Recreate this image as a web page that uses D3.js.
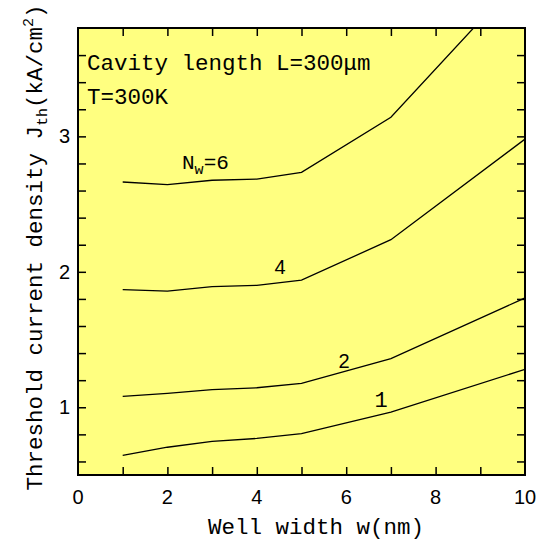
<!DOCTYPE html>
<html><head><meta charset="utf-8">
<script src="https://cdn.jsdelivr.net/npm/d3@7"></script>
<style>body{margin:0;background:#fff}</style>
</head><body><svg id="c" width="546" height="544"></svg>
<script>
const wellWidth = [1, 2, 3, 4, 5, 7, 10];
const jth_Nw1 = [0.645, 0.705, 0.748, 0.770, 0.805, 0.965, 1.28];
const jth_Nw2 = [1.080, 1.102, 1.131, 1.144, 1.176, 1.359, 1.807];
const jth_Nw4 = [1.868, 1.858, 1.890, 1.900, 1.939, 2.237, 2.980];
const jth_Nw6 = [2.663, 2.644, 2.676, 2.685, 2.734, 3.141, 4.21];
const xTickLabels = [0, 2, 4, 6, 8, 10];
const yTickLabels = [1, 2, 3];

const svg = d3.select("#c");
const L = 78, R = 525, T = 28, B = 475;
const x = d3.scaleLinear().domain([0, 10]).range([L, R]);
const y = d3.scaleLinear().domain([0.5, 3.8]).range([B, T]);
const mono = "'Courier New','Liberation Mono',monospace";
const sans = "Arial,'Liberation Sans',sans-serif";

svg.append("rect").attr("x", L).attr("y", T).attr("width", R - L).attr("height", B - T).attr("fill", "#ffff80");
svg.append("clipPath").attr("id", "clip").append("rect").attr("x", L).attr("y", T).attr("width", R - L).attr("height", B - T);

const minorX = d3.range(1, 10);
const minorY = d3.range(6, 38, 2).map(v => v / 10);
const tl = 8;
svg.append("g").attr("transform", `translate(0,${B})`)
  .call(d3.axisBottom(x).tickValues(minorX).tickSize(-tl).tickFormat(""))
  .call(g => g.select(".domain").remove());
svg.append("g").attr("transform", `translate(0,${T})`)
  .call(d3.axisTop(x).tickValues(minorX).tickSize(-tl).tickFormat(""))
  .call(g => g.select(".domain").remove());
svg.append("g").attr("transform", `translate(${L},0)`)
  .call(d3.axisLeft(y).tickValues(minorY).tickSize(-tl).tickFormat(""))
  .call(g => g.select(".domain").remove());
svg.append("g").attr("transform", `translate(${R},0)`)
  .call(d3.axisRight(y).tickValues(minorY).tickSize(-tl).tickFormat(""))
  .call(g => g.select(".domain").remove());
svg.selectAll(".tick line").attr("stroke", "#000").attr("stroke-width", 1.5);

svg.append("g").selectAll("text").data(xTickLabels).join("text")
  .attr("x", d => x(d)).attr("y", 504).attr("text-anchor", "middle")
  .attr("font-family", sans).attr("font-size", 20).text(d => d);
svg.append("g").selectAll("text").data(yTickLabels).join("text")
  .attr("x", 70).attr("y", d => y(d) + 7).attr("text-anchor", "end")
  .attr("font-family", sans).attr("font-size", 20).text(d => d);

const line = d3.line().x(d => x(d[0])).y(d => y(d[1]));
const series = [jth_Nw1, jth_Nw2, jth_Nw4, jth_Nw6];
svg.append("g").attr("clip-path", "url(#clip)").selectAll("path").data(series).join("path")
  .attr("d", s => line(wellWidth.map((w, i) => [w, s[i]])))
  .attr("fill", "none").attr("stroke", "#000").attr("stroke-width", 1.3);

svg.append("rect").attr("x", L).attr("y", T).attr("width", R - L).attr("height", B - T)
  .attr("fill", "none").attr("stroke", "#000").attr("stroke-width", 2);

svg.append("text").attr("x", 87).attr("y", 70).attr("font-family", mono).attr("font-size", 22.5)
  .text("Cavity length L=300μm");
svg.append("text").attr("x", 87).attr("y", 104).attr("font-family", mono).attr("font-size", 22.5)
  .text("T=300K");
const n6 = svg.append("text").attr("x", 182).attr("y", 169).attr("font-family", mono).attr("font-size", 21);
n6.append("tspan").text("N");
n6.append("tspan").attr("font-size", 15).attr("dy", 5).text("w");
n6.append("tspan").attr("dy", -5).text("=6");
svg.append("text").attr("x", 280).attr("y", 274).attr("text-anchor", "middle").attr("font-family", sans).attr("font-size", 20).text("4");
svg.append("text").attr("x", 344).attr("y", 368).attr("text-anchor", "middle").attr("font-family", sans).attr("font-size", 20).text("2");
svg.append("text").attr("x", 381).attr("y", 407).attr("text-anchor", "middle").attr("font-family", mono).attr("font-size", 22).text("1");

svg.append("text").attr("x", 316).attr("y", 534).attr("text-anchor", "middle")
  .attr("font-family", mono).attr("font-size", 22.5).text("Well width w(nm)");
const yt = svg.append("text").attr("transform", `translate(42,${(T + B) / 2 - 4}) rotate(-90)`)
  .attr("text-anchor", "middle").attr("font-family", mono).attr("font-size", 22.5);
yt.append("tspan").text("Threshold current density J");
yt.append("tspan").attr("font-size", 15).attr("dy", 5).text("th");
yt.append("tspan").attr("dy", -5).text("(kA/cm");
yt.append("tspan").attr("font-size", 15).attr("dy", -9).text("2");
yt.append("tspan").attr("dy", 9).text(")");
</script></body></html>
